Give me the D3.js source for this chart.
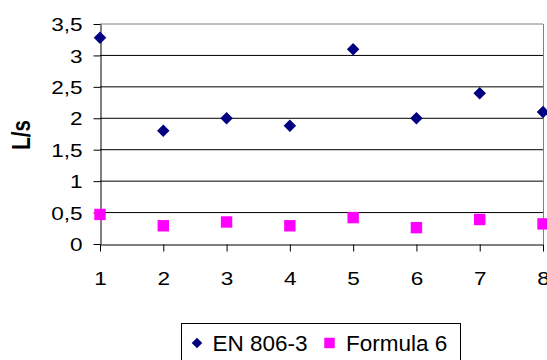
<!DOCTYPE html>
<html>
<head>
<meta charset="utf-8">
<script src="https://cdn.jsdelivr.net/npm/d3@7"></script>
<style>
body { margin:0; background:#fff; }
svg { display:block; font-family:"Liberation Sans", Arial, sans-serif; }
</style>
</head>
<body>
<svg width="547" height="360"></svg>
<script>
// chart data
var xValues = [1, 2, 3, 4, 5, 6, 7, 8]
var en806 = [3.28, 1.8, 2.0, 1.88, 3.1, 2.0, 2.4, 2.1]
var formula6 = [0.47, 0.29, 0.35, 0.29, 0.42, 0.26, 0.39, 0.32]
var yTicks = [0, 0.5, 1, 1.5, 2, 2.5, 3, 3.5]
var seriesNames = ["EN 806-3", "Formula 6"]

var plot = {left:100, right:543, top:24, bottom:244}

var svg = d3.select("svg")

var xScale = d3.scaleLinear()
                .domain([1,8])
                .range([plot.left,plot.right])

var yScale = d3.scaleLinear()
                .domain([0,3.5])
                .range([plot.bottom,plot.top])

var comma = function(d){return String(d).replace(".",",")}

// gridlines
svg.append("g")
    .selectAll("line")
    .data(yTicks.filter(function(d){return d>0}))
    .enter()
    .append("line")
    .attr("x1",plot.left)
    .attr("x2",plot.right)
    .attr("y1",function(d){return yScale(d)})
    .attr("y2",function(d){return yScale(d)})
    .attr("stroke",function(d){return d==3.5 ? "#808080" : "#000"})
    .attr("stroke-width",1)

// right border
svg.append("line")
    .attr("x1",plot.right+0.5).attr("x2",plot.right+0.5)
    .attr("y1",plot.top).attr("y2",plot.bottom)
    .attr("stroke","#808080")

var yAxis = d3.axisLeft(yScale)
                .tickValues(yTicks)
                .tickSize(7)
                .tickSizeOuter(0)
                .tickFormat(comma)

var xAxis = d3.axisBottom(xScale)
                .tickValues(xValues)
                .tickSize(7)
                .tickSizeOuter(0)
                .tickFormat(d3.format("d"))

var gy = svg.append("g")
    .attr("transform","translate("+(plot.left+0.5)+",0)")
    .call(yAxis)

gy.selectAll("text")
    .attr("x",null)
    .attr("dy","0.36em")
    .attr("transform","translate(-18,0) scale(1.22,1)")
    .attr("font-size","18.5px")
    .attr("font-family","Liberation Sans, Arial, sans-serif")
    .attr("fill","#000")

var gx = svg.append("g")
    .attr("transform","translate(0,"+(plot.bottom+0.5)+")")
    .call(xAxis)

gx.selectAll("text")
    .attr("y",null)
    .attr("dy",0)
    .attr("transform","translate(0,40.5) scale(1.22,1)")
    .attr("font-size","18.5px")
    .attr("font-family","Liberation Sans, Arial, sans-serif")
    .attr("fill","#000")

svg.selectAll(".domain, .tick line").attr("stroke","#000")

// axis title
svg.append("text")
    .attr("transform","translate(30,135) scale(1.22,1) rotate(-90)")
    .attr("text-anchor","middle")
    .attr("font-weight","bold")
    .attr("font-size","20.5px")
    .text("L/s")

var diamond = d3.symbol().type(d3.symbolSquare).size(78)
var square = d3.symbol().type(d3.symbolSquare).size(130)

// EN 806-3 points
svg.append("g")
    .selectAll("path")
    .data(en806)
    .enter()
    .append("path")
    .attr("d",diamond)
    .attr("transform",function(d,i){return "translate("+xScale(xValues[i])+","+yScale(d)+") rotate(45)"})
    .attr("fill","#000080")

// Formula 6 points
svg.append("g")
    .selectAll("path")
    .data(formula6)
    .enter()
    .append("path")
    .attr("d",square)
    .attr("transform",function(d,i){return "translate("+xScale(xValues[i])+","+yScale(d)+")"})
    .attr("fill","#ff00ff")

// legend
var legend = svg.append("g")

legend.append("rect")
    .attr("x",181.5).attr("y",323.5)
    .attr("width",279).attr("height",45)
    .attr("fill","#fff")
    .attr("stroke","#000")

legend.append("path")
    .attr("d",d3.symbol().type(d3.symbolSquare).size(56))
    .attr("transform","translate(197,343) rotate(45)")
    .attr("fill","#000080")

legend.append("path")
    .attr("d",d3.symbol().type(d3.symbolSquare).size(110))
    .attr("transform","translate(329.5,343)")
    .attr("fill","#ff00ff")

legend.selectAll("text")
    .data(seriesNames)
    .enter()
    .append("text")
    .attr("x",function(d,i){return i==0 ? 212.5 : 346})
    .attr("y",350.5)
    .attr("font-size","22.5px")
    .text(function(d){return d})
</script>
</body>
</html>
